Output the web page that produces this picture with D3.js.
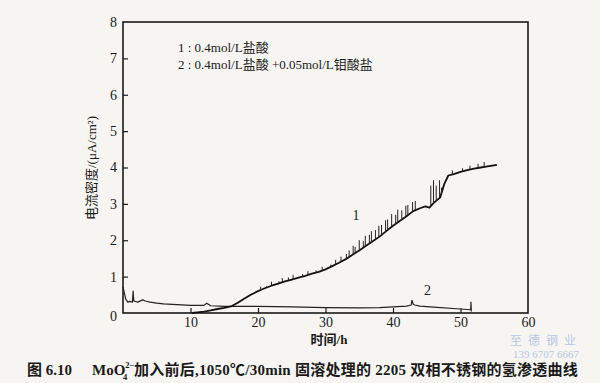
<!DOCTYPE html>
<html><head><meta charset="utf-8">
<script src="https://cdn.jsdelivr.net/npm/d3@7"></script>
<style>
html,body{margin:0;padding:0;background:#f6f5f1;}
svg{display:block;}
text{font-family:"Liberation Serif","Noto Sans CJK SC",serif;fill:#1a1a1a;}
</style></head>
<body>
<svg id="c" width="600" height="383"></svg>
<script>
// ---- data ----
const xTicks = [0,10,20,30,40,50,60];
const yTicks = [0,1,2,3,4,5,6,7,8];
const legendLabels = ["1 : 0.4mol/L盐酸", "2 : 0.4mol/L盐酸 +0.05mol/L钼酸盐"];
// curve 1: 0.4 mol/L HCl
const c1Time  = [10.2,11,12,13,14,15,16,17,18,19,20,21,22,23,24,25,26,27,28,29,30,31,32,33,34,35,36,37,38,39,40,41,42,43,44,44.8,45.4,46,47,47.6,48.2,49,50,51,52,53,54,55.4];
const c1Value = [0.0,0.02,0.04,0.07,0.11,0.14,0.18,0.28,0.4,0.51,0.6,0.68,0.75,0.81,0.87,0.92,0.97,1.02,1.08,1.13,1.2,1.29,1.38,1.48,1.6,1.72,1.85,1.97,2.1,2.25,2.4,2.53,2.66,2.8,2.88,2.93,2.9,3.02,3.18,3.55,3.78,3.82,3.88,3.93,3.97,4.0,4.03,4.07];
// noise spikes on curve 1: time, peak value
const c1SpikeTime = [20.4,21.3,22.0,23.1,23.6,24.5,25.2,26.6,27.4,28.6,29.5,30.8,31.5,32.3,33.1,33.5,34.1,34.4,35.0,35.6,35.9,36.5,36.8,37.4,37.9,38.3,38.9,39.2,39.8,40.4,40.7,41.3,41.9,42.2,42.9,43.3,45.6,46.0,46.4,46.9,47.2,48.8,50.3,51.4,52.6,53.5];
const c1SpikeTop  = [0.72,0.74,0.86,0.87,0.96,0.98,1.05,1.07,1.15,1.17,1.27,1.33,1.46,1.55,1.62,1.72,1.85,1.82,2.0,1.98,2.12,2.15,2.25,2.28,2.4,2.42,2.55,2.57,2.72,2.7,2.84,2.82,2.95,2.97,3.05,3.08,3.5,3.65,3.5,3.65,3.45,3.92,3.98,4.05,4.1,4.15];
// curve 2: 0.4 mol/L HCl + 0.05 mol/L molybdate
const c2Time  = [0,0.2,0.4,0.7,1.0,1.4,1.5,1.6,2.2,2.9,3.3,4,5,6,8,10,12,12.4,13,15,20,25,30,35,38,40,42,42.7,42.8,43.0,43.2,44,46,50,51.5,51.55,51.6];
const c2Value = [0.72,0.55,0.38,0.3,0.32,0.3,0.6,0.33,0.3,0.36,0.33,0.3,0.27,0.25,0.23,0.21,0.21,0.27,0.2,0.18,0.18,0.17,0.15,0.14,0.15,0.17,0.19,0.22,0.35,0.24,0.22,0.19,0.16,0.11,0.09,0.3,0.04];
const curveLabels = [{t:"1", x:34.5, y:2.55},{t:"2", x:45.1, y:0.5}];
const caption = "图 6.10";

// ---- layout ----
const svg = d3.select("#c");
const L=123, R=528, T=22, B=313;
const x = d3.scaleLinear().domain([0,60]).range([L,R]);
const y = d3.scaleLinear().domain([0,8]).range([B,T]);

// frame
svg.append("rect").attr("x",L).attr("y",T).attr("width",R-L).attr("height",B-T)
  .attr("fill","none").attr("stroke","#1a1a1a").attr("stroke-width",1.6);

// axes with inward ticks
const xa = svg.append("g").attr("transform",`translate(0,${B})`)
  .call(d3.axisBottom(x).tickValues(xTicks).tickSizeInner(-5).tickSizeOuter(0).tickPadding(4));
const ya = svg.append("g").attr("transform",`translate(${L},0)`)
  .call(d3.axisLeft(y).tickValues(yTicks).tickSizeInner(-5).tickSizeOuter(0).tickPadding(6));
[xa,ya].forEach(g=>{
  g.select(".domain").remove();
  g.selectAll("line").attr("stroke","#1a1a1a").attr("stroke-width",1.2);
  g.selectAll("text").attr("font-size",14).attr("fill","#1a1a1a")
   .style("font-family",'"Liberation Serif",serif');
});
xa.selectAll("text").filter(d=>d===0).remove();
xa.selectAll("line").filter(d=>d===0||d===60).remove();
ya.selectAll("line").filter(d=>d===0||d===8).remove();
ya.selectAll("text").filter(d=>d===0).attr("dy","0.55em");

// curves
const line = d3.line().x(d=>x(d[0])).y(d=>y(d[1]));
const c2 = c2Time.map((t,i)=>[t,c2Value[i]]);
const c1 = c1Time.map((t,i)=>[t,c1Value[i]]);
svg.append("path").datum(c2).attr("d",line).attr("fill","none")
  .attr("stroke","#222").attr("stroke-width",1.2).attr("stroke-linejoin","round");
svg.append("path").datum(c1).attr("d",line).attr("fill","none")
  .attr("stroke","#111").attr("stroke-width",1.8).attr("stroke-linejoin","round");
const c1Interp = d3.scaleLinear().domain(c1Time).range(c1Value);
svg.append("g").selectAll("line").data(c1SpikeTime).join("line")
  .attr("x1",d=>x(d)).attr("x2",d=>x(d))
  .attr("y1",d=>y(c1Interp(d))).attr("y2",(d,i)=>y(c1SpikeTop[i]))
  .attr("stroke","#222").attr("stroke-width",1);

// curve labels
svg.selectAll(".cl").data(curveLabels).join("text").attr("class","cl")
  .attr("x",d=>x(d.x)).attr("y",d=>y(d.y)).attr("font-size",14).attr("text-anchor","middle")
  .text(d=>d.t);

// legend text
svg.selectAll(".lg").data(legendLabels).join("text").attr("class","lg")
  .attr("x",178).attr("y",(d,i)=>52+i*17).attr("font-size",13).text(d=>d);

// axis titles
svg.append("text").attr("transform","translate(96,168) rotate(-90)")
  .attr("text-anchor","middle").attr("font-size",13).text("电流密度/(μA/cm²)");
svg.append("text").attr("x",329).attr("y",344).attr("text-anchor","middle")
  .attr("font-size",13).attr("font-weight","bold").text("时间/h");

// caption
const cap = svg.append("text").attr("x",27).attr("y",375).attr("font-size",15).attr("font-weight","bold");
cap.append("tspan").text(caption);
cap.append("tspan").attr("x",92).text("MoO");
cap.append("tspan").attr("font-size",8.5).attr("dy",-7).text("2−");
cap.append("tspan").attr("font-size",8.5).attr("x",123).attr("dy",12).text("4");
cap.append("tspan").attr("x",134).attr("dy",-5).attr("letter-spacing",0.25)
  .text("加入前后,1050℃/30min 固溶处理的 2205 双相不锈钢的氢渗透曲线");

// watermark
svg.append("text").attr("x",546).attr("y",345).attr("text-anchor","middle").attr("font-size",12)
  .style("fill","#b9c6e6").attr("letter-spacing",6).text("至德钢业");
svg.append("text").attr("x",546).attr("y",358).attr("text-anchor","middle").attr("font-size",11)
  .style("fill","#b9c6e6").text("139 6707 6667");
</script>
</body></html>
